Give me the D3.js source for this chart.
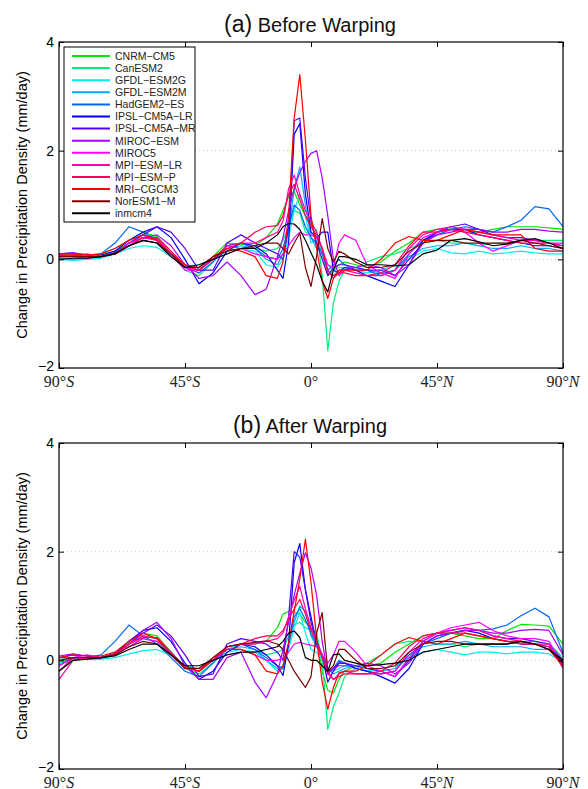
<!DOCTYPE html>
<html><head><meta charset="utf-8">
<script src="https://cdn.jsdelivr.net/npm/d3@7"></script>
<style>body{margin:0;background:#fff}svg{display:block}</style>
</head><body>
<svg id="chart" width="588" height="789"></svg>
<script>
// ---------- DATA ----------
const latitudes = [-90,-85,-80,-75,-70,-65,-60,-55,-50,-45,-40,-35,-30,-25,-20,
  -16,-12,-10,-8,-6,-4,-2,0,2,4,6,8,10,12,
  16,20,25,30,35,40,45,50,55,60,65,70,75,80,85,90];
const modelNames = ["CNRM−CM5","CanESM2","GFDL−ESM2G","GFDL−ESM2M","HadGEM2−ES","IPSL−CM5A−LR",
  "IPSL−CM5A−MR","MIROC−ESM","MIROC5","MPI−ESM−LR","MPI−ESM−P","MRI−CGCM3","NorESM1−M","inmcm4"];
const yTickValues = [-2, 0, 2, 4];
const yTickLabels = ["−2", "0", "2", "4"];
const gridValues = [0, 2];
const xTickValues = [-90, -45, 0, 45, 90];
const xTickNumbers = ["90°", "45°", "0°", "45°", "90°"];
const xTickHemis = ["S", "S", "", "N", "N"];
const panelLetters = ["(a)", "(b)"];
const panelTitles = ["Before Warping", "After Warping"];
const yAxisLabel = "Change in Precipitation Density (mm/day)";

// Before warping
const before_CNRM_CM5 = [0.08,0.1,0.08,0.1,0.2,0.35,0.5,0.42,0.15,-0.15,-0.2,0.05,0.3,0.28,0.25, 0.4,0.65,0.9,1.15,1.25,1.0,0.8,0.65,0.4,0.1,-0.3,-0.2,-0.1,-0.05, -0.1,-0.15,-0.05,0.15,0.3,0.5,0.55,0.55,0.5,0.5,0.55,0.6,0.6,0.6,0.58,0.55];
const before_CanESM2 = [0.05,0.06,0.05,0.06,0.15,0.3,0.45,0.4,0.1,-0.2,-0.3,-0.05,0.25,0.3,0.2, 0.15,0.2,0.35,0.6,0.9,0.85,0.5,0.45,0.55,-0.3,-1.68,-0.8,-0.4,-0.2, -0.15,-0.05,0.05,0.1,0.2,0.3,0.35,0.3,0.3,0.25,0.3,0.3,0.35,0.35,0.35,0.35];
const before_GFDL_ESM2G = [0.0,-0.02,0.0,0.02,0.1,0.2,0.25,0.22,0.05,-0.12,-0.1,0.0,0.15,0.2,0.15, -0.1,-0.15,0.0,0.4,0.9,1.2,0.8,0.3,0.35,0.15,-0.1,-0.2,-0.15,-0.15, -0.2,-0.25,-0.2,-0.1,0.0,0.15,0.2,0.12,0.1,0.15,0.1,0.12,0.15,0.12,0.1,0.1];
const before_GFDL_ESM2M = [0.02,0.0,0.02,0.05,0.12,0.25,0.35,0.3,0.05,-0.15,-0.15,0.0,0.2,0.25,0.2, 0.0,-0.1,0.1,0.5,1.3,1.7,1.0,0.4,0.2,0.2,-0.2,-0.3,-0.2,-0.15, -0.15,-0.2,-0.25,-0.2,0.05,0.2,0.25,0.25,0.3,0.25,0.2,0.2,0.25,0.2,0.2,0.15];
const before_HadGEM2_ES = [0.08,0.05,0.05,0.1,0.3,0.6,0.5,0.35,0.1,-0.15,-0.25,-0.05,0.25,0.3,0.2, 0.05,0.0,0.2,0.6,1.0,0.9,0.6,0.4,0.3,0.1,-0.2,-0.1,0.0,-0.1, -0.2,-0.2,-0.3,-0.2,0.1,0.35,0.45,0.55,0.6,0.55,0.5,0.6,0.72,0.97,0.93,0.6];
const before_IPSL_CM5A_LR = [0.05,0.08,0.05,0.08,0.15,0.35,0.5,0.6,0.4,0.0,-0.45,-0.25,0.15,0.3,0.25, 0.1,-0.2,-0.35,0.3,2.3,2.5,1.2,0.5,0.4,0.5,0.5,-0.2,-0.25,-0.15, -0.2,-0.3,-0.4,-0.5,-0.1,0.35,0.5,0.55,0.55,0.45,0.4,0.35,0.3,0.25,0.25,0.2];
const before_IPSL_CM5A_MR = [0.1,0.12,0.08,0.05,0.12,0.3,0.45,0.6,0.5,0.2,-0.2,-0.2,0.3,0.45,0.3, 0.2,0.1,0.0,0.6,2.55,2.6,1.5,0.7,0.3,0.0,-0.3,-0.15,-0.1,-0.1, -0.15,-0.2,-0.2,-0.3,0.0,0.3,0.5,0.6,0.65,0.55,0.45,0.4,0.4,0.35,0.3,0.25];
const before_MIROC_ESM = [0.1,0.12,0.08,0.05,0.1,0.25,0.4,0.45,0.25,-0.1,-0.35,-0.3,-0.05,-0.3,-0.65, -0.55,0.05,0.4,0.9,1.3,1.6,1.8,1.95,2.0,1.5,0.8,0.0,-0.3,-0.2, -0.15,-0.1,-0.15,-0.3,-0.1,0.3,0.45,0.5,0.55,0.55,0.5,0.5,0.55,0.55,0.52,0.5];
const before_MIROC5 = [0.05,0.08,0.1,0.05,0.1,0.3,0.4,0.35,0.1,-0.2,-0.2,0.0,0.25,0.2,0.1, 0.05,0.0,0.1,0.25,0.4,0.5,0.45,0.45,0.4,0.2,-0.1,-0.15,0.3,0.45, 0.35,-0.1,-0.25,-0.35,0.1,0.4,0.5,0.55,0.5,0.3,0.15,0.25,0.35,0.35,0.3,0.3];
const before_MPI_ESM_LR = [0.05,0.05,0.02,0.05,0.1,0.3,0.4,0.38,0.1,-0.15,-0.2,0.0,0.25,0.3,0.3, 0.4,0.5,0.7,1.3,1.55,1.2,0.9,0.7,0.5,0.2,-0.2,-0.35,-0.25,-0.2, -0.25,-0.3,-0.3,-0.2,0.2,0.45,0.55,0.6,0.55,0.5,0.45,0.4,0.35,0.35,0.3,0.25];
const before_MPI_ESM_P = [0.08,0.08,0.05,0.05,0.1,0.25,0.4,0.4,0.15,-0.1,-0.2,0.0,0.2,0.3,0.5, 0.6,0.62,0.8,1.2,1.38,1.1,0.8,0.6,0.45,0.2,-0.25,-0.3,-0.25,-0.25, -0.3,-0.3,-0.25,-0.1,0.25,0.5,0.5,0.55,0.5,0.45,0.4,0.35,0.3,0.3,0.3,0.25];
const before_MRI_CGCM3 = [0.1,0.1,0.08,0.1,0.2,0.35,0.45,0.35,0.1,-0.1,-0.15,0.05,0.2,0.15,0.05, -0.3,-0.35,-0.05,0.8,2.6,3.4,2.2,0.8,0.2,-0.4,-0.72,-0.35,-0.2,-0.2, -0.2,-0.2,0.0,0.3,0.42,0.35,0.35,0.45,0.55,0.5,0.45,0.45,0.45,0.2,0.15,0.15];
const before_NorESM1_M = [0.05,0.05,0.05,0.05,0.12,0.25,0.35,0.3,0.1,-0.15,-0.15,0.05,0.15,0.2,0.25, 0.3,0.3,0.2,0.1,0.3,0.48,-0.15,-0.5,0.05,0.75,0.2,-0.05,0.15,0.1, -0.05,-0.15,-0.15,-0.1,0.15,0.3,0.35,0.35,0.3,0.3,0.3,0.3,0.35,0.3,0.25,0.2];
const before_inmcm4 = [0.0,0.02,0.02,0.05,0.1,0.25,0.35,0.3,0.05,-0.15,-0.1,0.0,0.1,0.2,0.2, 0.3,0.45,0.6,0.66,0.65,0.55,0.35,0.12,-0.1,-0.4,-0.6,-0.2,0.05,0.05, 0.0,-0.1,-0.1,-0.12,-0.1,0.1,0.17,0.35,0.38,0.32,0.25,0.28,0.35,0.38,0.3,0.2];

// After warping
const after_CNRM_CM5 = [-0.05,0.05,0.05,0.05,0.12,0.35,0.5,0.45,0.15,-0.12,-0.2,0.0,0.25,0.3,0.3, 0.35,0.6,0.85,0.9,0.88,0.85,0.7,0.6,0.5,-0.2,-0.55,-0.6,-0.35,-0.2, -0.1,-0.1,-0.05,0.15,0.3,0.45,0.5,0.5,0.45,0.4,0.4,0.55,0.66,0.65,0.63,0.3];
const after_CanESM2 = [0.05,0.05,0.05,0.05,0.1,0.3,0.45,0.4,0.12,-0.15,-0.25,-0.05,0.2,0.3,0.2, 0.1,0.15,0.2,0.45,0.65,0.7,0.6,0.55,0.5,0.0,-1.27,-0.85,-0.6,-0.3, -0.15,-0.05,0.1,0.3,0.35,0.35,0.3,0.3,0.25,0.3,0.3,0.3,0.35,0.35,0.3,0.05];
const after_GFDL_ESM2G = [-0.05,0.0,0.02,0.02,0.05,0.12,0.18,0.2,0.1,-0.1,-0.15,0.0,0.15,0.2,0.15, 0.0,-0.2,-0.15,0.2,0.6,0.88,0.5,0.2,0.15,0.0,-0.15,-0.2,-0.15,-0.1, -0.15,-0.2,-0.15,-0.1,0.05,0.15,0.2,0.15,0.1,0.15,0.15,0.12,0.15,0.15,0.12,-0.05];
const after_GFDL_ESM2M = [0.0,0.02,0.02,0.03,0.1,0.25,0.4,0.35,0.1,-0.12,-0.15,0.0,0.2,0.25,0.2, 0.0,-0.15,-0.1,0.3,0.7,1.0,0.9,0.45,0.25,0.1,-0.15,-0.25,-0.2,-0.15, -0.1,-0.15,-0.2,-0.15,0.1,0.25,0.3,0.3,0.35,0.3,0.25,0.25,0.25,0.2,0.2,-0.05];
const after_HadGEM2_ES = [0.05,0.05,0.05,0.1,0.35,0.65,0.45,0.3,0.05,-0.2,-0.3,-0.05,0.25,0.3,0.2, 0.05,-0.1,-0.15,0.3,0.8,0.95,0.75,0.5,0.3,0.1,-0.2,-0.15,0.0,-0.05, -0.15,-0.2,-0.25,-0.2,0.1,0.3,0.4,0.5,0.55,0.55,0.58,0.65,0.82,0.96,0.8,0.14];
const after_IPSL_CM5A_LR = [-0.1,0.05,0.05,0.05,0.12,0.35,0.55,0.6,0.35,-0.05,-0.35,-0.2,0.15,0.3,0.25, 0.1,-0.1,-0.28,0.3,1.8,2.15,1.3,0.8,0.3,0.08,-0.4,-0.2,-0.05,-0.05, -0.15,-0.2,-0.3,-0.42,-0.15,0.3,0.45,0.5,0.55,0.5,0.4,0.35,0.3,0.3,0.25,-0.05];
const after_IPSL_CM5A_MR = [0.05,0.1,0.08,0.05,0.12,0.3,0.5,0.65,0.45,0.1,-0.3,-0.25,0.3,0.4,0.35, 0.3,0.15,0.0,0.8,2.0,1.9,1.3,0.7,0.35,0.1,-0.25,-0.15,-0.05,-0.05, -0.1,-0.15,-0.2,-0.3,0.0,0.35,0.5,0.55,0.6,0.55,0.45,0.4,0.4,0.35,0.3,0.0];
const after_MIROC_ESM = [0.08,0.12,0.08,0.05,0.1,0.3,0.55,0.7,0.4,-0.1,-0.35,-0.35,0.05,0.15,-0.4, -0.69,-0.25,0.2,0.7,1.2,1.6,1.98,1.7,1.2,0.35,-0.25,-0.15,-0.1,-0.1, -0.1,-0.05,-0.1,-0.25,-0.05,0.3,0.45,0.5,0.55,0.55,0.5,0.5,0.55,0.57,0.55,0.1];
const after_MIROC5 = [-0.1,0.05,0.1,0.05,0.1,0.25,0.4,0.35,0.15,-0.15,-0.15,0.0,0.2,0.2,0.1, 0.0,0.0,0.05,0.15,0.3,0.33,0.3,0.28,0.25,0.1,-0.05,0.1,0.35,0.35, 0.15,-0.1,-0.2,-0.3,0.05,0.35,0.5,0.6,0.65,0.7,0.55,0.45,0.4,0.4,0.35,-0.1];
const after_MPI_ESM_LR = [-0.35,0.0,0.05,0.05,0.1,0.3,0.45,0.4,0.12,-0.15,-0.2,0.0,0.25,0.3,0.3, 0.35,0.4,0.5,0.8,1.1,1.36,0.95,0.6,0.35,0.05,-0.2,-0.35,-0.25,-0.2, -0.25,-0.25,-0.25,-0.2,0.15,0.4,0.5,0.55,0.6,0.55,0.45,0.4,0.35,0.3,0.3,-0.15];
const after_MPI_ESM_P = [-0.2,0.05,0.05,0.05,0.12,0.3,0.42,0.42,0.15,-0.12,-0.2,0.0,0.25,0.3,0.4, 0.45,0.45,0.55,0.75,0.95,1.12,0.85,0.55,0.35,0.05,-0.25,-0.35,-0.3,-0.25, -0.25,-0.25,-0.2,-0.05,0.25,0.45,0.5,0.5,0.5,0.45,0.4,0.35,0.3,0.3,0.25,-0.1];
const after_MRI_CGCM3 = [0.05,0.1,0.08,0.08,0.15,0.35,0.5,0.4,0.1,-0.1,-0.2,0.05,0.2,0.2,0.1, -0.2,-0.25,-0.1,0.33,0.9,1.5,2.23,1.43,0.4,-0.4,-0.9,-0.5,-0.23,-0.2, -0.2,-0.1,0.1,0.3,0.42,0.35,0.3,0.4,0.5,0.45,0.4,0.35,0.35,0.3,0.2,-0.1];
const after_NorESM1_M = [0.0,0.05,0.05,0.05,0.1,0.25,0.35,0.3,0.1,-0.15,-0.15,0.05,0.25,0.3,0.33, 0.36,0.3,0.2,0.0,-0.2,-0.35,-0.5,-0.3,0.5,0.88,-0.2,-0.1,0.2,0.2, 0.0,-0.15,-0.15,-0.1,0.15,0.3,0.35,0.35,0.3,0.3,0.3,0.3,0.35,0.3,0.2,-0.05];
const after_inmcm4 = [-0.2,0.0,0.02,0.05,0.08,0.2,0.3,0.3,0.1,-0.1,-0.1,0.0,0.1,0.15,0.15, 0.2,0.25,0.35,0.5,0.54,0.42,0.05,0.0,0.0,-0.1,-0.2,0.1,0.12,0.0, -0.05,-0.1,-0.08,-0.05,0.0,0.15,0.2,0.25,0.3,0.3,0.3,0.3,0.35,0.3,0.2,0.0];

const beforeSeries = [before_CNRM_CM5,before_CanESM2,before_GFDL_ESM2G,before_GFDL_ESM2M,before_HadGEM2_ES,
  before_IPSL_CM5A_LR,before_IPSL_CM5A_MR,before_MIROC_ESM,before_MIROC5,before_MPI_ESM_LR,before_MPI_ESM_P,
  before_MRI_CGCM3,before_NorESM1_M,before_inmcm4];
const afterSeries = [after_CNRM_CM5,after_CanESM2,after_GFDL_ESM2G,after_GFDL_ESM2M,after_HadGEM2_ES,
  after_IPSL_CM5A_LR,after_IPSL_CM5A_MR,after_MIROC_ESM,after_MIROC5,after_MPI_ESM_LR,after_MPI_ESM_P,
  after_MRI_CGCM3,after_NorESM1_M,after_inmcm4];

// ---------- STYLE ----------
const seriesColors = ["#00e600","#00ee77","#00eeee","#00aaff","#0066ff","#0000ff",
  "#5500ff","#aa00ff","#ff00ff","#ff00aa","#ff0055","#ff0000","#800000","#000000"];

const svg = d3.select("#chart");
const left = 59, right = 563;
const panels = [
  {top: 42, bottom: 368, data: beforeSeries, legend: true},
  {top: 443, bottom: 769, data: afterSeries, legend: false}
];
const sans = "Helvetica, Arial, 'Liberation Sans', sans-serif";
const serif = "'Liberation Serif', 'DejaVu Serif', serif";

panels.forEach((p, pi) => {
  const x = d3.scaleLinear().domain([-90, 90]).range([left, right]);
  const y = d3.scaleLinear().domain([-2, 4]).range([p.bottom, p.top]);
  const g = svg.append("g");

  // gridlines
  g.selectAll(".grid").data(gridValues).enter().append("line")
    .attr("x1", left).attr("x2", right)
    .attr("y1", d => y(d)).attr("y2", d => y(d))
    .attr("stroke", "#c8c8c8").attr("stroke-width", 1).attr("stroke-dasharray", "1,3");

  // lines
  const line = d3.line().x((d, i) => x(latitudes[i])).y(d => y(d));
  p.data.forEach((s, si) => {
    g.append("path").datum(s).attr("d", line)
      .attr("fill", "none").attr("stroke", seriesColors[si]).attr("stroke-width", 1.2)
      .attr("stroke-linejoin", "round");
  });

  // box
  g.append("rect").attr("x", left).attr("y", p.top).attr("width", right - left).attr("height", p.bottom - p.top)
    .attr("fill", "none").attr("stroke", "#000").attr("stroke-width", 1.2);

  // axes (ticks inward)
  const bottomAxis = d3.axisTop(x).tickValues(xTickValues).tickSize(5).tickFormat("");
  g.append("g").attr("transform", `translate(0,${p.bottom})`).call(bottomAxis)
    .call(a => { a.select(".domain").remove(); a.selectAll("line").attr("stroke", "#000"); });
  const topAxis = d3.axisBottom(x).tickValues(xTickValues).tickSize(5).tickFormat("");
  g.append("g").attr("transform", `translate(0,${p.top})`).call(topAxis)
    .call(a => { a.select(".domain").remove(); a.selectAll("line").attr("stroke", "#000"); });
  const leftAxis = d3.axisRight(y).tickValues(yTickValues).tickSize(5).tickFormat("");
  g.append("g").attr("transform", `translate(${left},0)`).call(leftAxis)
    .call(a => { a.select(".domain").remove(); a.selectAll("line").attr("stroke", "#000"); });
  const rightAxis = d3.axisLeft(y).tickValues(yTickValues).tickSize(5).tickFormat("");
  g.append("g").attr("transform", `translate(${right},0)`).call(rightAxis)
    .call(a => { a.select(".domain").remove(); a.selectAll("line").attr("stroke", "#000"); });

  // y tick labels
  g.selectAll(".ylab").data(yTickValues).enter().append("text")
    .attr("x", left - 5).attr("y", (d, i) => y(d) + (i === 0 ? 3 : 5))
    .attr("text-anchor", "end").attr("font-family", sans).attr("font-size", 14)
    .text((d, i) => yTickLabels[i]);

  // x tick labels
  xTickValues.forEach((v, i) => {
    const t = g.append("text").attr("x", x(v)).attr("y", p.bottom + 18.5)
      .attr("text-anchor", "middle").attr("font-family", serif).attr("font-size", 16).attr("fill", "#222");
    t.append("tspan").text(xTickNumbers[i]);
    if (xTickHemis[i]) t.append("tspan").attr("font-style", "italic").text(xTickHemis[i]);
  });

  // y axis label
  g.append("text").attr("transform", `translate(27,${(p.top + p.bottom) / 2}) rotate(-90)`)
    .attr("text-anchor", "middle").attr("font-family", sans).attr("font-size", 14.5)
    .text(yAxisLabel);

  // title
  const title = g.append("text").attr("x", 310).attr("y", p.top - 10)
    .attr("text-anchor", "middle").attr("font-family", sans).attr("fill", "#111");
  title.append("tspan").attr("font-size", 23).text(panelLetters[pi]);
  title.append("tspan").attr("font-size", 20).text(" " + panelTitles[pi]);

  // legend
  if (p.legend) {
    const lg = g.append("g");
    const lx = 64, ly = 47, lw = 131, lh = 175;
    lg.append("rect").attr("x", lx).attr("y", ly).attr("width", lw).attr("height", lh)
      .attr("fill", "#fff").attr("stroke", "#000").attr("stroke-width", 1);
    modelNames.forEach((name, i) => {
      const yy = ly + 9 + i * 12.1;
      lg.append("line").attr("x1", lx + 8).attr("x2", lx + 46).attr("y1", yy).attr("y2", yy)
        .attr("stroke", seriesColors[i]).attr("stroke-width", 2);
      lg.append("text").attr("x", lx + 51).attr("y", yy + 3.8)
        .attr("font-family", sans).attr("font-size", 10.5).attr("fill", "#222").text(name);
    });
  }
});
</script>
</body></html>
